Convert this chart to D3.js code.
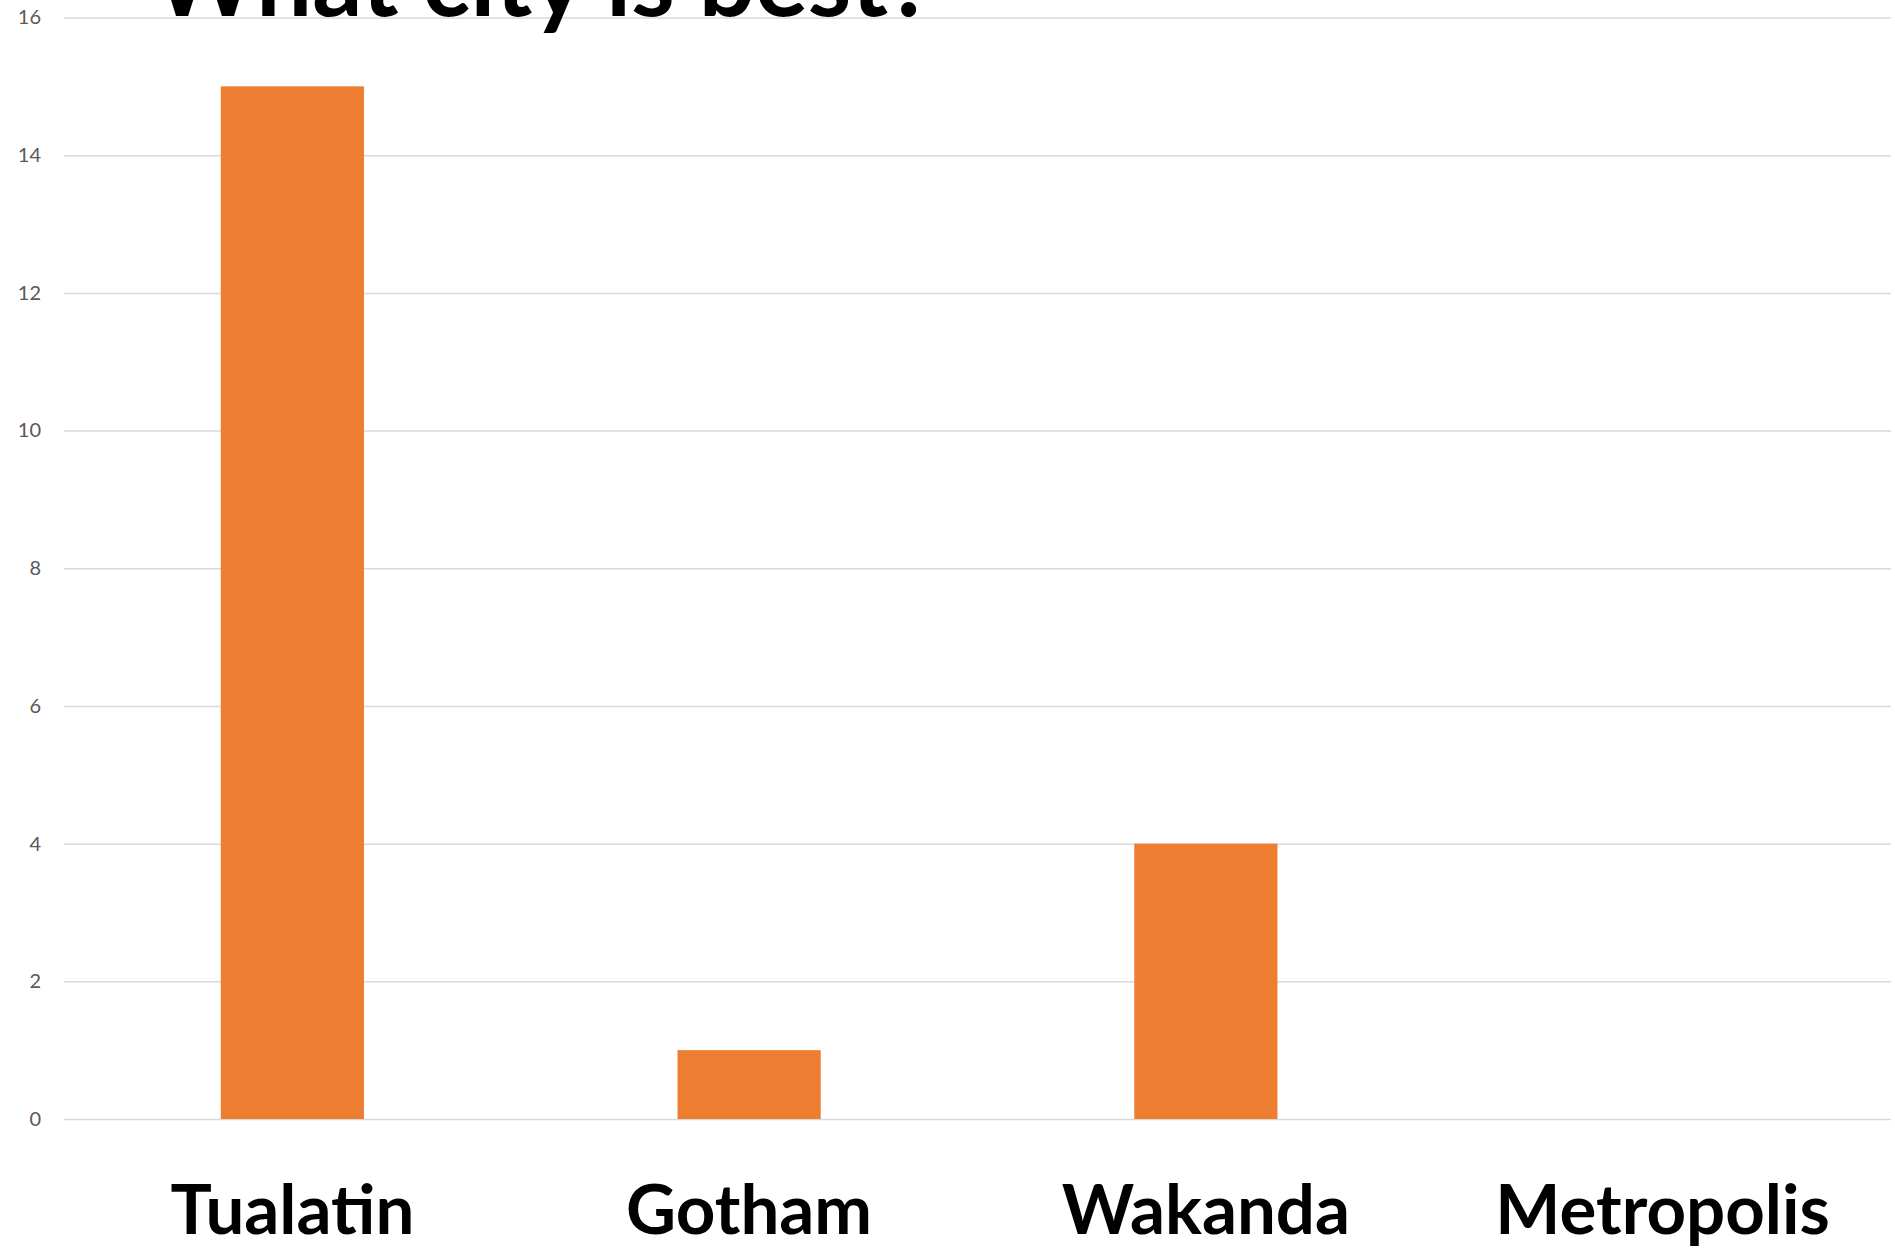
<!DOCTYPE html>
<html>
<head>
<meta charset="utf-8">
<script src="https://cdn.jsdelivr.net/npm/d3@7"></script>
<style>
  body { margin: 0; background: #fff; }
  svg { display: block; }
</style>
</head>
<body>
<script>
// chart data
var cities = ["Tualatin", "Gotham", "Wakanda", "Metropolis"];
var votes = [15, 1, 4, 0];
var yTicks = [0, 2, 4, 6, 8, 10, 12, 14, 16];
var titleText = "What city is best?";

// ================= layout =============== //
var width = 1895, height = 1250;
var plot = {left: 64, right: 1891, top: 17.5, bottom: 1119};
var gap = 0.6865; // excel style gap width

var svg = d3.select("body").append("svg")
    .attr("width", width)
    .attr("height", height);

var x = d3.scaleBand()
    .domain(cities)
    .range([plot.left, plot.right])
    .paddingInner(gap)
    .paddingOuter(gap / 2);

var y = d3.scaleLinear()
    .domain([0, 16])
    .range([plot.bottom, plot.top]);

// Gridlines + tick labels
var yAxis = svg.append("g")
   .attr("transform", "translate(" + plot.left + ",0)")
   .call(d3.axisLeft(y)
      .tickValues(yTicks)
      .tickSize(-(plot.right - plot.left))
      .tickPadding(23));
yAxis.select(".domain").remove();
yAxis.selectAll(".tick line")
   .attr("stroke", "#d9d9d9")
   .attr("stroke-width", 1.5);
yAxis.selectAll(".tick text")
   .attr("font-family", "Lato, sans-serif")
   .attr("font-size", "20px")
   .attr("fill", "#595959");

// Bars
svg.selectAll("rect.bar")
   .data(cities)
   .enter().append("rect")
   .attr("class", "bar")
   .attr("x", function(d) { return x(d); })
   .attr("width", x.bandwidth())
   .attr("y", function(d, i) { return y(votes[i]); })
   .attr("height", function(d, i) { return y(0) - y(votes[i]); })
   .attr("fill", "#ED7D31");

// Category labels under the plot
svg.selectAll("text.cat")
   .data(cities)
   .enter().append("text")
   .attr("class", "cat")
   .attr("x", function(d) { return x(d) + x.bandwidth() / 2; })
   .attr("y", 1234)
   .attr("text-anchor", "middle")
   .attr("font-family", "Lato, sans-serif")
   .attr("font-weight", "bold")
   .attr("font-size", "69px")
   .attr("fill", "#000")
   .text(function(d) { return d; });

// Title, mostly cut off above the top edge (as in the original)
svg.append("text")
   .attr("x", 153)
   .attr("y", 16)
   .attr("font-family", "Lato, sans-serif")
   .attr("font-weight", "bold")
   .attr("font-size", "99px")
   .attr("fill", "#000")
   .text(titleText);
</script>
</body>
</html>
